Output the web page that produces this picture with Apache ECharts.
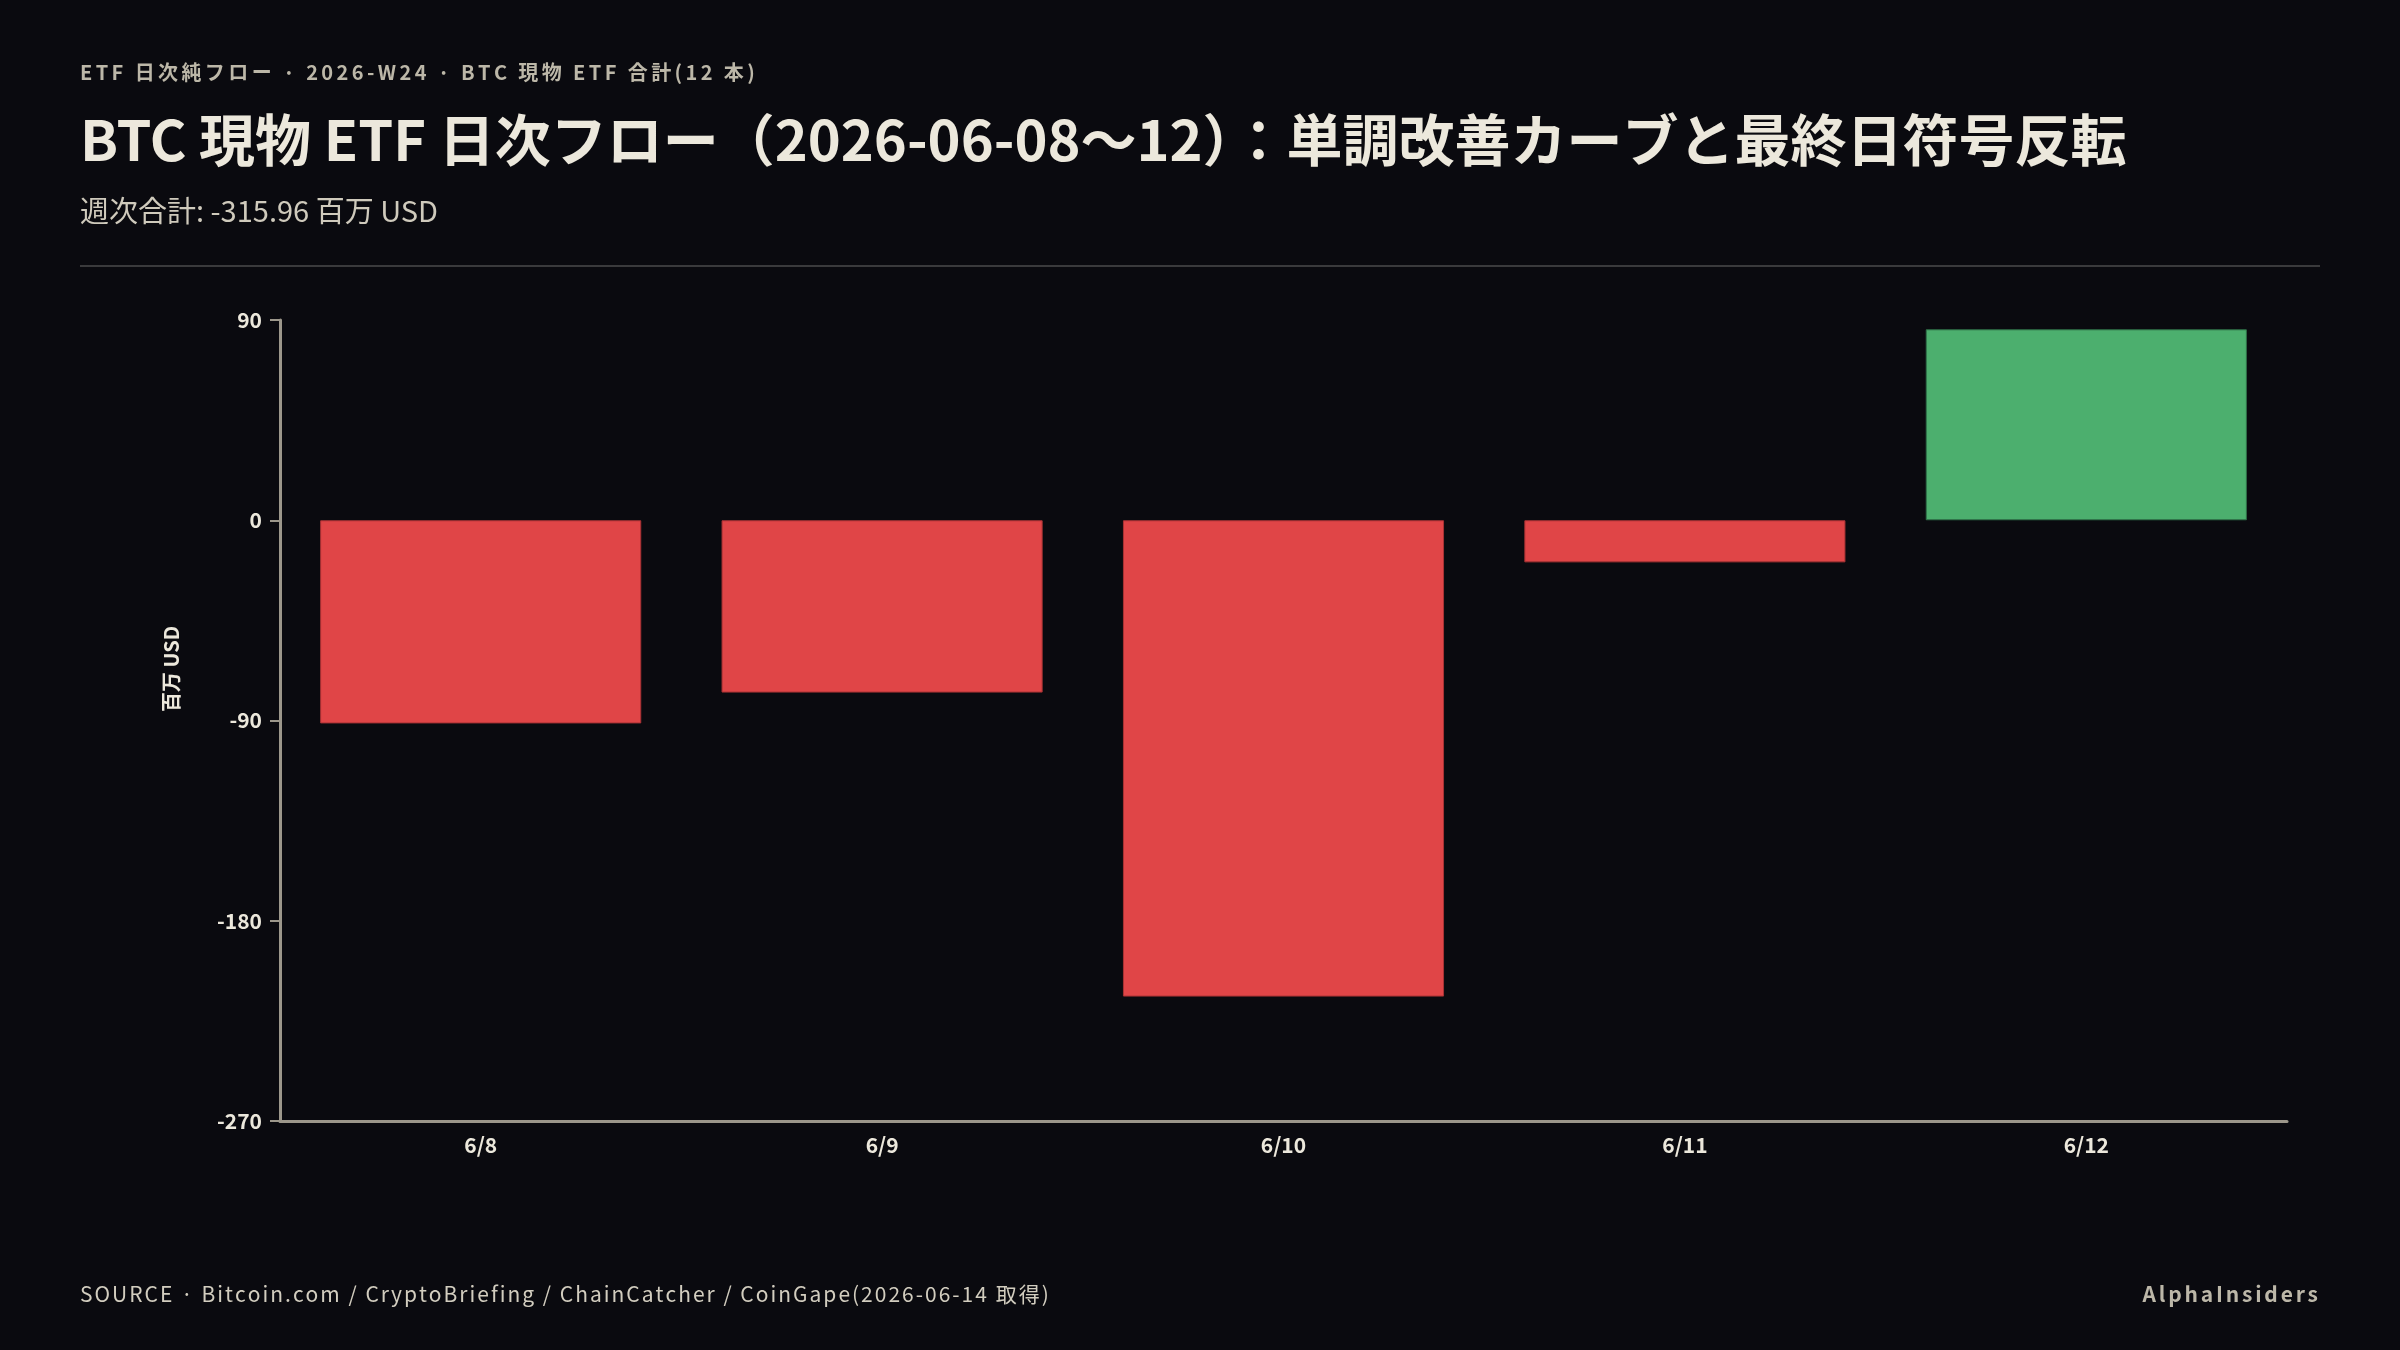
<!DOCTYPE html>
<html>
<head>
<meta charset="utf-8">
<script src="https://cdn.jsdelivr.net/npm/echarts@6/dist/echarts.min.js"></script>
<style>
  html, body { margin: 0; padding: 0; background: #0a0a0f; }
  #chart { width: 2400px; height: 1350px; }
</style>
</head>
<body>
<div id="chart"></div>
<script>
// 日次純フロー (百万 USD)
var days = ['6/8', '6/9', '6/10', '6/11', '6/12'];
var flows = [-91.32, -77.45, -214.08, -18.93, 85.82];
var yTicks = { min: -270, max: 90, step: 90 };

var UP = '#4caf6e', DOWN = '#e04547';
var TEXT = '#ece8dc', MUTED = '#bcb7a8', AXIS = '#9c978b';
var FONT = '"Noto Sans CJK JP", "Noto Sans", sans-serif';

// zrender has no letter-spacing, so pad every character as a rich token
function spaced(str) {
  return str.split('').map(function (ch) { return '{c|' + ch + '}'; }).join('');
}

var chart = echarts.init(document.getElementById('chart'));

var option = {
  backgroundColor: '#0a0a0f',
  animation: false,
  textStyle: { fontFamily: FONT },
  grid: { left: 280, right: 113, top: 320, bottom: 229 },
  xAxis: {
    type: 'category',
    data: days,
    axisLine: { onZero: false, lineStyle: { color: AXIS, width: 3 } },
    axisTick: { alignWithLabel: true, length: 9, lineStyle: { color: AXIS, width: 2 } },
    axisLabel: { color: TEXT, fontSize: 21, fontWeight: 'bold', margin: 14, fontFamily: FONT },
    splitLine: { show: false }
  },
  yAxis: {
    type: 'value',
    min: yTicks.min,
    max: yTicks.max,
    interval: yTicks.step,
    axisLine: { show: true, lineStyle: { color: AXIS, width: 3 } },
    axisTick: { show: true, length: 10, lineStyle: { color: AXIS, width: 2 } },
    axisLabel: { color: TEXT, fontSize: 21, fontWeight: 'bold', margin: 18, fontFamily: FONT },
    splitLine: { show: false }
  },
  series: [{
    type: 'bar',
    barCategoryGap: '20%',
    data: flows.map(function (v) {
      return {
        value: v,
        itemStyle: {
          color: v >= 0 ? UP : DOWN,
          borderColor: v >= 0 ? '#2f7048' : '#a83234',
          borderWidth: 1
        }
      };
    })
  }],
  graphic: [
    { type: 'text', left: 80, top: 62, style: {
        text: spaced('ETF 日次純フロー · 2026-W24 · BTC 現物 ETF 合計(12 本)'),
        rich: { c: { fill: MUTED, font: 'bold 20px ' + FONT, padding: [0, 1.7, 0, 1.7] } } } },
    { type: 'text', left: 80, top: 112, style: { text: 'BTC 現物 ETF 日次フロー（2026-06-08〜12）：単調改善カーブと最終日符号反転', fill: TEXT, font: 'bold 56px ' + FONT } },
    { type: 'text', left: 80, top: 196, style: { text: '週次合計: -315.96 百万 USD', fill: '#cfcabc', font: '29px ' + FONT } },
    { type: 'rect', shape: { x: 80, y: 265, width: 2240, height: 2 }, style: { fill: '#3a3a3c' } },
    { type: 'text', x: 171, y: 669, rotation: Math.PI / 2, style: { text: '百万 USD', fill: TEXT, font: 'bold 20px ' + FONT, align: 'center', verticalAlign: 'middle' } },
    { type: 'text', left: 80, top: 1284, style: {
        text: spaced('SOURCE · Bitcoin.com / CryptoBriefing / ChainCatcher / CoinGape(2026-06-14 取得)'),
        rich: { c: { fill: '#d2cdbf', font: '21px ' + FONT, padding: [0, 1, 0, 1] } } } },
    { type: 'text', right: 82, top: 1284, style: {
        text: spaced('AlphaInsiders'),
        rich: { c: { fill: MUTED, font: 'bold 21px ' + FONT, padding: [0, 1.4, 0, 1.4] } } } }
  ]
};

chart.setOption(option);
</script>
</body>
</html>
